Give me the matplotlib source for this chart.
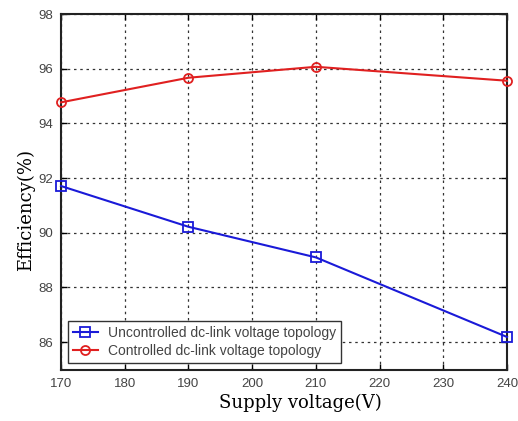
import matplotlib
matplotlib.use("Agg")
import matplotlib.pyplot as plt

voltage = [170, 190, 210, 240]
uncontrolled = [91.71, 90.22, 89.10, 86.19]
controlled = [94.77, 95.67, 96.07, 95.56]
xticks = [170, 180, 190, 200, 210, 220, 230, 240]
yticks = [86, 88, 90, 92, 94, 96, 98]

fig = plt.figure(figsize=(5.18, 4.21), dpi=100)
ax = fig.add_axes([0.1178, 0.1223, 0.8610, 0.8444])

ax.plot(voltage, uncontrolled, color='#1a1ad8', marker='s', markersize=6.5,
        markerfacecolor='none', markeredgewidth=1.3, linewidth=1.5, clip_on=False,
        zorder=3, label='Uncontrolled dc-link voltage topology')
ax.plot(voltage, controlled, color='#e02020', marker='o', markersize=6.5,
        markerfacecolor='none', markeredgewidth=1.3, linewidth=1.5, clip_on=False,
        zorder=3, label='Controlled dc-link voltage topology')

ax.set_xlim(170, 240)
ax.set_ylim(85, 98)
ax.set_xticks(xticks)
ax.set_yticks(yticks)
ax.tick_params(direction='in', top=True, right=True, length=4, labelsize=9.5,
               labelcolor='#444444', width=1, pad=6)
for lab in ax.get_xticklabels() + ax.get_yticklabels():
    lab.set_family('Liberation Sans')
ax.grid(True, color='#333333', linestyle=(0, (2, 3)), linewidth=0.9)
for s in ax.spines.values():
    s.set_linewidth(1.5)
    s.set_color('#222222')

ax.set_xlabel('Supply voltage(V)', family='DejaVu Serif', fontsize=13, labelpad=3, x=0.536)
ax.set_ylabel('Efficiency(%)', family='DejaVu Serif', fontsize=13, labelpad=2, y=0.449)

leg = ax.legend(loc='lower left', prop={'family': 'Liberation Sans', 'size': 10},
                fancybox=False, edgecolor='#333333', framealpha=1,
                borderaxespad=0.5, handlelength=1.8, handletextpad=0.7,
                borderpad=0.35, labelspacing=0.25)
leg.get_frame().set_linewidth(1.0)
for t in leg.get_texts():
    t.set_color('#444444')

fig.savefig('out.png', dpi=100)
